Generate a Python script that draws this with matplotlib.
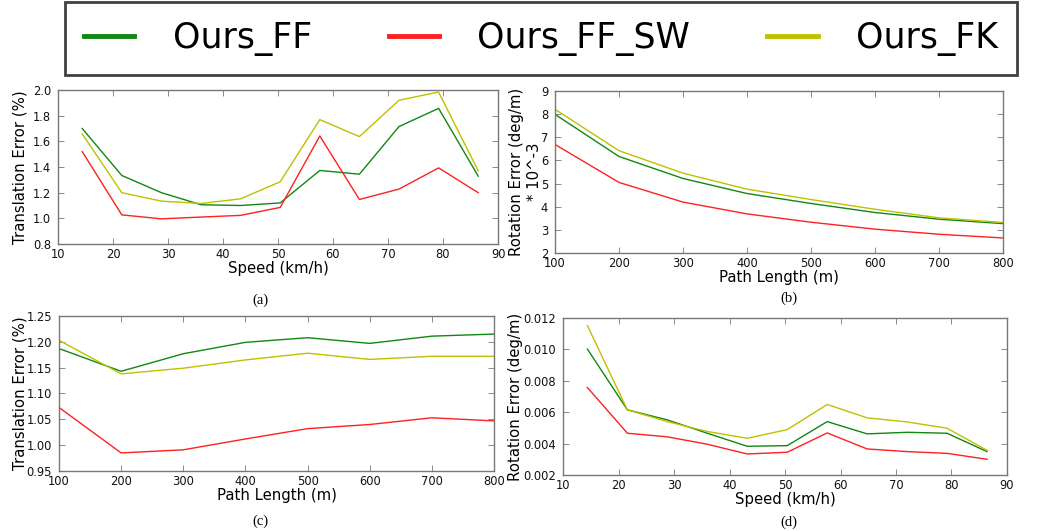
import matplotlib
matplotlib.use("Agg")
import matplotlib.pyplot as plt
from matplotlib.lines import Line2D

# --- data ---
speed = [14.4, 21.6, 28.8, 36.0, 43.2, 50.4, 57.6, 64.8, 72.0, 79.2, 86.4]
path_len = [100, 200, 300, 400, 500, 600, 700, 800]

# (a) translation error vs speed
trans_speed_ff = [1.70, 1.334, 1.20, 1.106, 1.10, 1.12, 1.373, 1.344, 1.715, 1.857, 1.329]
trans_speed_ffsw = [1.52, 1.027, 0.996, 1.01, 1.023, 1.085, 1.642, 1.147, 1.228, 1.393, 1.20]
trans_speed_fk = [1.658, 1.20, 1.134, 1.116, 1.152, 1.285, 1.769, 1.637, 1.92, 1.984, 1.37]

# (b) rotation error vs path length (x 10^-3)
rot_len_ff = [7.99, 6.17, 5.22, 4.57, 4.14, 3.75, 3.46, 3.27]
rot_len_ffsw = [6.69, 5.05, 4.20, 3.69, 3.33, 3.03, 2.81, 2.65]
rot_len_fk = [8.21, 6.42, 5.45, 4.76, 4.31, 3.89, 3.52, 3.32]

# (c) translation error vs path length
trans_len_ff = [1.187, 1.143, 1.177, 1.199, 1.208, 1.197, 1.211, 1.215]
trans_len_ffsw = [1.073, 0.985, 0.991, 1.012, 1.032, 1.040, 1.053, 1.047]
trans_len_fk = [1.203, 1.138, 1.149, 1.165, 1.178, 1.166, 1.172, 1.172]

# (d) rotation error vs speed
rot_speed_ff = [0.01002, 0.00615, 0.00551, 0.00466, 0.00383, 0.00387, 0.0054, 0.00462, 0.00472, 0.00466, 0.00349]
rot_speed_ffsw = [0.00757, 0.00466, 0.00443, 0.00396, 0.00334, 0.00345, 0.00468, 0.00366, 0.00349, 0.00338, 0.0030]
rot_speed_fk = [0.01151, 0.00615, 0.0054, 0.00477, 0.00434, 0.00489, 0.00649, 0.00564, 0.00538, 0.00498, 0.00357]

names = ['Ours_FF', 'Ours_FF_SW', 'Ours_FK']
colors = ['#118811', '#ff2020', '#c0c000']

W, H = 1041, 531
fig = plt.figure(figsize=(W / 100, H / 100), dpi=100)


def box(l, t, r, b):
    return [l / W, 1 - b / H, (r - l) / W, (b - t) / H]


def setup(ax, x, series, xlim, ylim, xticks, yticks, xlabel, ylabel, yfmt, ylab_x):
    for ys, c in zip(series, colors):
        ax.plot(x, ys, color=c, lw=1.0)
    ax.set_xlim(*xlim)
    ax.set_ylim(*ylim)
    ax.set_xticks(xticks)
    ax.set_yticks(yticks)
    ax.set_yticklabels([yfmt % v for v in yticks])
    ax.tick_params(direction='in', top=True, right=True, length=4, width=0.6,
                   color='#777777', labelsize=8.3, labelcolor='#111111')
    ax.tick_params(axis='x', pad=3)
    ax.tick_params(axis='y', pad=5)
    for s in ax.spines.values():
        s.set_color('#777777')
        s.set_linewidth(1.0)
    ax.set_xlabel(xlabel, fontsize=10.7, labelpad=0)
    ax.set_ylabel(ylabel, fontsize=10.7, multialignment='center', linespacing=1.25)
    ax.yaxis.set_label_coords(ylab_x, 0.5)


ax_a = fig.add_axes(box(58, 90, 498, 244))
setup(ax_a, speed, [trans_speed_ff, trans_speed_ffsw, trans_speed_fk],
      (10, 90), (0.8, 2.0), range(10, 91, 10), [0.8, 1.0, 1.2, 1.4, 1.6, 1.8, 2.0],
      'Speed (km/h)', 'Translation Error (%)', '%.1f', -0.070)

ax_b = fig.add_axes(box(555, 91, 1003, 253))
setup(ax_b, path_len, [rot_len_ff, rot_len_ffsw, rot_len_fk],
      (100, 800), (2, 9), range(100, 801, 100), list(range(2, 10)),
      'Path Length (m)', 'Rotation Error (deg/m)\n* 10^-3', '%d', -0.028)

ax_c = fig.add_axes(box(59, 316, 494, 471))
setup(ax_c, path_len, [trans_len_ff, trans_len_ffsw, trans_len_fk],
      (100, 800), (0.95, 1.25), range(100, 801, 100),
      [0.95, 1.00, 1.05, 1.10, 1.15, 1.20, 1.25],
      'Path Length (m)', 'Translation Error (%)', '%.2f', -0.073)

ax_d = fig.add_axes(box(563, 318, 1007, 475))
setup(ax_d, speed, [rot_speed_ff, rot_speed_ffsw, rot_speed_fk],
      (10, 90), (0.002, 0.012), range(10, 91, 10),
      [0.002, 0.004, 0.006, 0.008, 0.010, 0.012],
      'Speed (km/h)', 'Rotation Error (deg/m)', '%.3f', -0.089)

# captions
for txt, cx, cy in [('(a)', 260, 300), ('(b)', 789, 298), ('(c)', 260, 521), ('(d)', 789, 522)]:
    fig.text(cx / W, 1 - cy / H, txt, ha='center', va='center',
             fontsize=10.5, family=['Liberation Serif', 'DejaVu Serif'])

# shared legend on top
handles = [Line2D([], [], color=c, lw=3.5) for c in colors]
leg = fig.legend(handles, names, loc='lower left', ncol=3, mode='expand',
                 bbox_to_anchor=(65 / W, 1 - 75 / H, 952 / W, 65 / H),
                 borderaxespad=0, fontsize=25, handlelength=1.45,
                 handletextpad=1.1, borderpad=0.55, fancybox=False)
leg.get_frame().set_edgecolor('#111111')
leg.get_frame().set_linewidth(2.0)

fig.savefig('out.png', dpi=100)
